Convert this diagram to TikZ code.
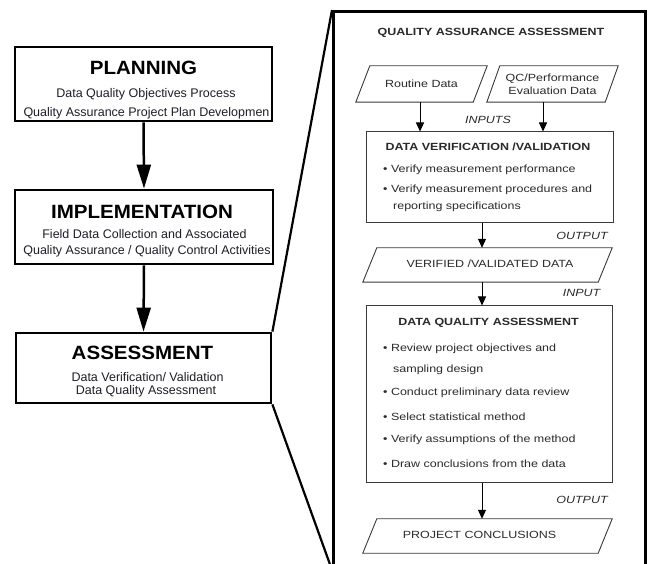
\documentclass[tikz,border=0pt]{standalone}
\usepackage{fontspec}
\setmainfont{Liberation Sans}
\newfontfamily\rf[FakeStretch=1.2]{Liberation Sans}
\newfontfamily\lf[FakeStretch=1.07]{Liberation Sans}
\usetikzlibrary{arrows.meta}
\definecolor{txt}{HTML}{1E1E28}
\definecolor{rtxt}{HTML}{2A2A2A}
\definecolor{thin}{HTML}{3A3A3A}
\tikzset{
  phasebox/.style={draw=black,line width=2.8pt,inner sep=0pt},
  phasetitle/.style={font=\lf\fontsize{19.2}{22}\selectfont\bfseries,text=black,inner sep=0pt},
  phasesub/.style={font=\fontsize{12.5}{14}\selectfont,text=txt,inner sep=0pt},
  bigarrow/.style={line width=2.5pt,-{Triangle[length=24pt,width=14pt]}},
  panel/.style={draw=black,line width=3pt,inner sep=0pt},
  funnel/.style={line width=2.2pt,black},
  stepbox/.style={draw=thin,line width=1pt,inner sep=0pt},
  databox/.style={inner sep=0pt,font=\rf\fontsize{10.4}{13}\selectfont,text=rtxt,align=center},
  paraline/.style={draw=thin,line width=0.9pt},
  rtitle/.style={font=\rf\fontsize{10.4}{12}\selectfont\bfseries,text=rtxt,inner sep=0pt},
  rtext/.style={font=\rf\fontsize{10.4}{12}\selectfont,text=rtxt,inner sep=0pt,anchor=west},
  flowlabel/.style={font=\rf\fontsize{10.4}{12}\selectfont\itshape,text=rtxt,inner sep=0pt},
  smallarrow/.style={line width=1pt,black,-{Triangle[length=9pt,width=8pt]}}
}
\newcommand\paragram[2]{\draw[paraline] ([xshift=#2]#1.north west) -- ([xshift=#2]#1.north east) -- ([xshift=-#2]#1.south east) -- ([xshift=-#2]#1.south west) -- cycle;}
\begin{document}
\begin{tikzpicture}[x=1pt,y=-1pt]
\clip (0,0) rectangle (649,564);
\fill[white] (0,0) rectangle (649,564);
% left phases
\node[phasebox,minimum width=257pt,minimum height=74pt] (plan) at (143.5,84) {};
\node[phasebox,minimum width=258pt,minimum height=74pt] (impl) at (144,227) {};
\node[phasebox,minimum width=255pt,minimum height=70pt] (assess) at (143.5,368) {};
\node[phasetitle] (plant) at (143.5,68) {PLANNING};
\node[phasesub] (plans1) at (146,94) {Data Quality Objectives Process};
\node[phasesub] (plans2) at (146.5,113) {Quality Assurance Project Plan Developmen};
\node[phasetitle] (implt) at (142,212) {IMPLEMENTATION};
\node[phasesub] (impls1) at (144.5,234) {Field Data Collection and Associated};
\node[phasesub] (impls2) at (147,251) {Quality Assurance / Quality Control Activities};
\node[phasetitle] (assesst) at (142.5,353) {ASSESSMENT};
\node[phasesub] (assesss1) at (147.5,377) {Data Verification/ Validation};
\node[phasesub] (assesss2) at (146,391) {Data Quality Assessment};
\draw[bigarrow] (plan.south) -- (impl.north);
\draw[bigarrow] (impl.south) -- (assess.north);
% panel
\node[panel,minimum width=312pt,minimum height=557pt,anchor=north west] (qa) at (332,10) {};
\draw[funnel] (qa.north west) -- (assess.north east);
\draw[funnel] (assess.south east) -- (qa.south west);
\node[rtitle] (qat) at (491,33) {QUALITY ASSURANCE ASSESSMENT};
\node[databox,minimum width=117pt,minimum height=36pt] (routine) at (421.5,84) {Routine Data};
\paragram{routine}{7pt}
\node[databox,minimum width=118pt,minimum height=36pt] (qc) at (552.5,84) {QC/Performance\\Evaluation Data};
\paragram{qc}{6.5pt}
\node[flowlabel] (inputs) at (488,120) {INPUTS};
\node[stepbox,minimum width=247pt,minimum height=91pt] (dv) at (489.5,177.5) {};
\node[rtitle] (dvt) at (488,147) {DATA VERIFICATION /VALIDATION};
\node[rtext] (dv1) at (383,170) {• Verify measurement performance};
\node[rtext] (dv2) at (383,190) {• Verify measurement procedures and};
\node[rtext] (dv3) at (393,207) {reporting specifications};
\draw[smallarrow] (routine.south -| 420,0) -- (dv.north -| 420,0);
\draw[smallarrow] (qc.south -| 543,0) -- (dv.north -| 543,0);
\node[flowlabel] (out1) at (582,236) {OUTPUT};
\node[databox,minimum width=235pt,minimum height=34pt] (ver) at (487.5,265) {};
\paragram{ver}{7pt}
\node[rtext,anchor=center] (vert) at (490,264) {VERIFIED /VALIDATED DATA};
\draw[smallarrow] (dv.south -| 482,0) -- (ver.north -| 482,0);
\node[flowlabel] (in1) at (581.5,293) {INPUT};
\node[stepbox,minimum width=246pt,minimum height=177pt] (dqa) at (489,394.5) {};
\draw[smallarrow] (ver.south -| 482,0) -- (dqa.north -| 482,0);
\node[rtitle] (dqat) at (488.5,323) {DATA QUALITY ASSESSMENT};
\node[rtext] (dqa1) at (383,349) {• Review project objectives and};
\node[rtext] (dqa2) at (393,370) {sampling design};
\node[rtext] (dqa3) at (383,393) {• Conduct preliminary data review};
\node[rtext] (dqa4) at (383,417) {• Select statistical method};
\node[rtext] (dqa5) at (383,440) {• Verify assumptions of the method};
\node[rtext] (dqa6) at (383,464) {• Draw conclusions from the data};
\node[flowlabel] (out2) at (582,500) {OUTPUT};
\node[databox,minimum width=235pt,minimum height=34pt] (pc) at (487.5,536) {};
\paragram{pc}{7pt}
\node[rtext,anchor=center] (pct) at (479.5,535) {PROJECT CONCLUSIONS};
\draw[smallarrow] (dqa.south -| 482,0) -- (pc.north -| 482,0);
\end{tikzpicture}
\end{document}
